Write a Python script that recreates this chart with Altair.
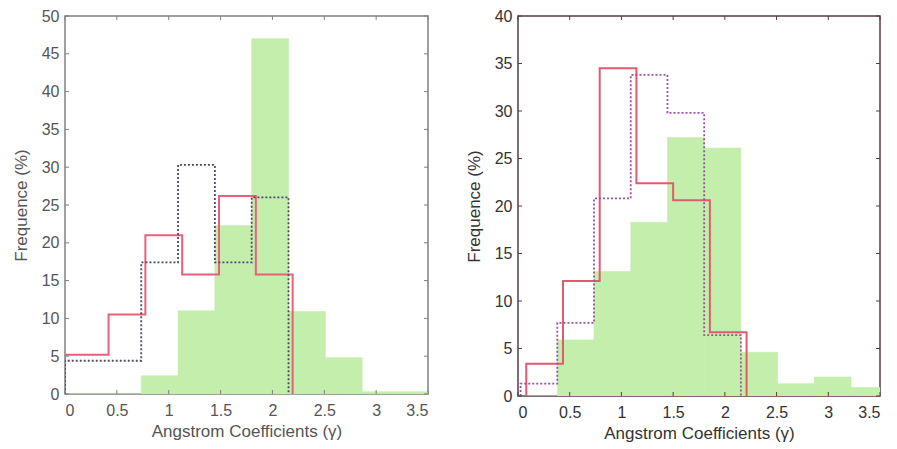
import altair as alt
import pandas as pd

# ---- shared histogram bin edges (green bars) ----
bin_lo = [0.025, 0.38, 0.735, 1.09, 1.445, 1.80, 2.155, 2.51, 2.865, 3.22]
bin_hi = [0.38, 0.735, 1.09, 1.445, 1.80, 2.155, 2.51, 2.865, 3.22, 3.575]

# ---- left panel ----
left_green = [0.0, 0.0, 2.4, 11.0, 22.3, 47.0, 10.9, 4.8, 0.3, 0.3]
left_red_x = [0.0, 0.0, 0.42, 0.775, 1.13, 1.485, 1.84, 2.195]
left_red_y = [0.0, 5.2, 10.5, 21.0, 15.8, 26.2, 15.8, 0.0]
left_dot_x = [0.0, 0.0, 0.735, 1.09, 1.445, 1.80, 2.155]
left_dot_y = [0.0, 4.4, 17.4, 30.3, 17.4, 26.0, 0.0]
left_yticks = [0, 5, 10, 15, 20, 25, 30, 35, 40, 45, 50]

# ---- right panel ----
right_green = [0.0, 5.9, 13.1, 18.3, 27.2, 26.1, 4.6, 1.3, 2.0, 0.9]
right_red_x = [0.0, 0.08, 0.08, 0.435, 0.79, 1.145, 1.50, 1.855, 2.21]
right_red_y = [0.0, 0.0, 3.4, 12.1, 34.5, 22.4, 20.6, 6.7, 0.0]
right_dot_x = [0.025, 0.025, 0.38, 0.735, 1.09, 1.445, 1.80, 2.155]
right_dot_y = [0.0, 1.3, 7.7, 20.8, 33.8, 29.8, 6.4, 0.0]
right_yticks = [0, 5, 10, 15, 20, 25, 30, 35, 40]

xticks = [0, 0.5, 1, 1.5, 2, 2.5, 3, 3.5]

FONT = "Liberation Sans"
XTITLE = "Angstrom Coefficients (\u03b3)"
YTITLE = "Frequence (%)"


def panel(green, rx, ry, dx, dy, yticks, ymax, W, H, frame, labcol, dotcol, redcol):
    xs = alt.Scale(domain=[0, 3.5], nice=False, zero=False)
    ys = alt.Scale(domain=[0, ymax], nice=False)
    bars_df = pd.DataFrame({"x0": bin_lo, "x1": bin_hi, "v": green, "b": [0.0] * len(green)})
    red_df = pd.DataFrame({"x": rx, "y": ry, "o": range(len(rx))})
    dot_df = pd.DataFrame({"x": dx, "y": dy, "o": range(len(dx))})
    xt_df = pd.DataFrame({"t": xticks})
    yt_df = pd.DataFrame({"t": yticks})

    xaxis = alt.Axis(values=xticks, format=".1~f", ticks=False, domain=False, grid=False,
                     labelFont=FONT, labelFontSize=16, labelColor=labcol, labelPadding=8,
                     titleFont=FONT, titleFontSize=17, titleFontWeight="normal",
                     titleColor=labcol, titlePadding=5)
    yaxis = alt.Axis(values=yticks, ticks=False, domain=False, grid=False,
                     labelFont=FONT, labelFontSize=16, labelColor=labcol, labelPadding=6,
                     titleFont=FONT, titleFontSize=17, titleFontWeight="normal",
                     titleColor=labcol, titlePadding=11)

    def X(f):
        return alt.X(f, scale=xs, axis=xaxis, title=XTITLE)

    def Y(f):
        return alt.Y(f, scale=ys, axis=yaxis, title=YTITLE)

    bars = alt.Chart(bars_df).mark_rect(color="#c4eeac", stroke="#c4eeac", strokeWidth=0.6,
                                        clip=True).encode(
        x=X("x0:Q"), x2="x1:Q", y=Y("v:Q"), y2="b:Q",
    )
    red = alt.Chart(red_df).mark_line(color=redcol, strokeWidth=2, interpolate="step-after",
                                      clip=True).encode(
        x=X("x:Q"), y=Y("y:Q"), order="o:Q",
    )
    dot = alt.Chart(dot_df).mark_line(color=dotcol, strokeWidth=1.8, strokeDash=[2, 2],
                                      interpolate="step-after", clip=True).encode(
        x=X("x:Q"), y=Y("y:Q"), order="o:Q",
    )
    tk = 4
    top_t = alt.Chart(xt_df).mark_rule(color=frame, strokeWidth=1).encode(
        x=X("t:Q"), y=alt.value(0), y2=alt.value(tk))
    bot_t = alt.Chart(xt_df).mark_rule(color=frame, strokeWidth=1).encode(
        x=X("t:Q"), y=alt.value(H), y2=alt.value(H - tk))
    lef_t = alt.Chart(yt_df).mark_rule(color=frame, strokeWidth=1).encode(
        y=Y("t:Q"), x=alt.value(0), x2=alt.value(tk))
    rig_t = alt.Chart(yt_df).mark_rule(color=frame, strokeWidth=1).encode(
        y=Y("t:Q"), x=alt.value(W - tk), x2=alt.value(W))

    return alt.layer(bars, red, dot, top_t, bot_t, lef_t, rig_t).properties(
        width=W, height=H,
        view=alt.ViewBackground(stroke=frame, strokeWidth=1.5, fill="white"),
    )


left = panel(left_green, left_red_x, left_red_y, left_dot_x, left_dot_y, left_yticks, 50,
             363, 378, "#808080", "#555555", "#4a4a6a", "#e8607a")
right = panel(right_green, right_red_x, right_red_y, right_dot_x, right_dot_y, right_yticks, 40,
              362, 380, "#5a3a4a", "#333333", "#a050a0", "#e25a70")

chart = alt.hconcat(left, right, spacing=34).properties(
    padding={"left": 11, "top": 7, "right": 5, "bottom": 5},
    background="white",
)

chart.save("out.html", embed_options={"renderer": "svg", "actions": False})
